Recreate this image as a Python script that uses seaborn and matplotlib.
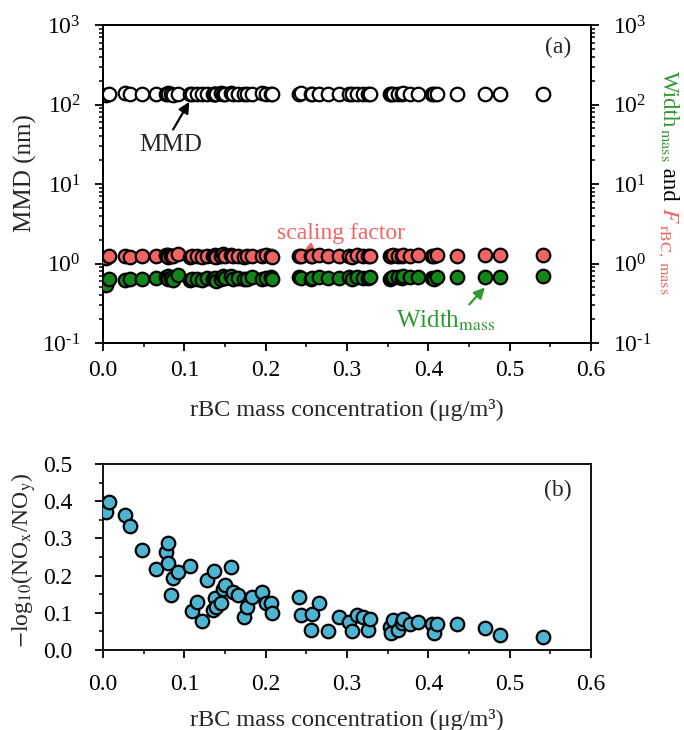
"""
MMD, scaling factor and width of the rBC mass size distribution (a),
and photochemical age -log10(NOx/NOy) (b), versus rBC mass concentration.
"""

import matplotlib
matplotlib.use("Agg")
import matplotlib.pyplot as plt
import seaborn as sns
from matplotlib.ticker import (LogLocator, MultipleLocator, FormatStrFormatter,
                               NullFormatter, FuncFormatter)

# rBC mass concentration (ug/m3), shared by both panels
rbc = [0.004, 0.007, 0.027, 0.033, 0.048, 0.065, 0.077, 0.080, 0.080, 0.084,
       0.086, 0.092, 0.107, 0.109, 0.115, 0.122, 0.128, 0.135, 0.137, 0.138,
       0.139, 0.145, 0.148, 0.150, 0.157, 0.160, 0.166, 0.173, 0.177, 0.183,
       0.195, 0.200, 0.207, 0.208, 0.241, 0.243, 0.256, 0.257, 0.265, 0.277,
       0.290, 0.303, 0.306, 0.312, 0.320, 0.326, 0.328, 0.353, 0.354, 0.357,
       0.363, 0.367, 0.369, 0.378, 0.387, 0.404, 0.407, 0.410, 0.435, 0.470,
       0.488, 0.541]

# panel (a)
mmd = [130, 136, 138, 134, 136, 137, 135, 138, 134, 136,
       133, 137, 136, 135, 137, 136, 134, 137, 135, 136,
       134, 138, 135, 137, 139, 136, 134, 137, 135, 136,
       138, 135, 136, 137, 136, 138, 135, 137, 136, 134,
       137, 136, 135, 137, 134, 136, 137, 136, 134, 137,
       136, 135, 138, 137, 136, 137, 134, 136, 135, 136,
       137, 137]
scaling = [1.16, 1.26, 1.24, 1.22, 1.25, 1.23, 1.27, 1.29, 1.22, 1.25,
           1.24, 1.30, 1.21, 1.23, 1.24, 1.22, 1.26, 1.23, 1.25, 1.27,
           1.21, 1.24, 1.30, 1.26, 1.27, 1.23, 1.25, 1.22, 1.24, 1.26,
           1.23, 1.27, 1.25, 1.22, 1.26, 1.24, 1.23, 1.25, 1.27, 1.24,
           1.25, 1.26, 1.22, 1.27, 1.25, 1.24, 1.26, 1.23, 1.25, 1.27,
           1.26, 1.24, 1.28, 1.26, 1.27, 1.25, 1.23, 1.27, 1.26, 1.28,
           1.27, 1.29]
width = [0.54, 0.64, 0.62, 0.63, 0.64, 0.66, 0.68, 0.70, 0.63, 0.65,
         0.62, 0.71, 0.62, 0.64, 0.63, 0.62, 0.65, 0.63, 0.64, 0.66,
         0.61, 0.64, 0.69, 0.66, 0.70, 0.64, 0.65, 0.63, 0.64, 0.67,
         0.63, 0.66, 0.68, 0.64, 0.67, 0.65, 0.64, 0.66, 0.67, 0.65,
         0.66, 0.67, 0.64, 0.68, 0.66, 0.65, 0.67, 0.64, 0.66, 0.68,
         0.67, 0.65, 0.69, 0.67, 0.68, 0.66, 0.64, 0.68, 0.67, 0.68,
         0.68, 0.69]

# panel (b)
nox_ratio = [0.372, 0.399, 0.363, 0.333, 0.269, 0.217, 0.264, 0.287, 0.233, 0.147,
             0.194, 0.209, 0.227, 0.105, 0.130, 0.079, 0.188, 0.108, 0.212, 0.141,
             0.116, 0.126, 0.163, 0.175, 0.222, 0.157, 0.147, 0.090, 0.116, 0.143,
             0.155, 0.127, 0.126, 0.099, 0.142, 0.094, 0.054, 0.097, 0.127, 0.052,
             0.088, 0.076, 0.051, 0.094, 0.088, 0.054, 0.083, 0.063, 0.045, 0.081,
             0.054, 0.072, 0.083, 0.070, 0.076, 0.070, 0.047, 0.070, 0.070, 0.058,
             0.040, 0.035]

RED = '#f26464'
GREEN = '#13861a'
GREEN_TXT = '#2f9a2f'
BLUE = '#4db5d1'

sns.set_theme(style="ticks")
plt.rcParams['font.family'] = ['Liberation Serif', 'DejaVu Serif']
plt.rcParams['mathtext.fontset'] = 'stix'
plt.rcParams['axes.unicode_minus'] = False

FS = 17
fig = plt.figure(figsize=(6.84, 7.3), dpi=100)
ax1 = fig.add_axes([0.1506, 0.5301, 0.7135, 0.4356])
ax2 = fig.add_axes([0.1506, 0.1096, 0.7135, 0.2548])

mk = dict(s=95, linewidth=1.6, edgecolor='black', zorder=3, legend=False)


def pow10(v, pos):
    e = int(round(np.log10(v)))
    if e < 0:
        return r'$\mathdefault{10^{\text{-}%d}}$' % (-e)
    return r'$\mathdefault{10^{%d}}$' % e


import numpy as np

# ---- panel (a)
ax1.set_yscale('log')
ax1.set_xlim(0, 0.6)
twin = ax1.twinx()
twin.set_yscale('log')

sns.scatterplot(x=rbc, y=mmd, ax=ax1, color='white', **mk)
sns.scatterplot(x=rbc, y=scaling, ax=twin, color=RED, **mk)
sns.scatterplot(x=rbc, y=width, ax=twin, color=GREEN, **mk)
twin.set_xlim(0, 0.6)

for a in (ax1, twin):
    a.yaxis.set_major_locator(LogLocator(base=10, numticks=10))
    a.yaxis.set_minor_locator(LogLocator(base=10, subs=range(2, 10), numticks=10))
    a.yaxis.set_major_formatter(FuncFormatter(pow10))
    a.yaxis.set_minor_formatter(NullFormatter())
    a.set_ylim(0.1, 1000)
    for s in a.spines.values():
        s.set_linewidth(1.3)
        s.set_color('black')

ax1.set_ylabel('MMD (nm)', fontsize=FS + 1)
ax1.yaxis.set_label_coords(-0.135, 0.535)
ax1.set_xlabel('rBC mass concentration (μg/m³)', fontsize=FS + 0.5)
ax1.xaxis.set_label_coords(0.5, -0.175)

ax1.annotate('MMD', xy=(0.106, 108), xytext=(0.083, 31), fontsize=FS + 1,
             ha='center', va='center',
             arrowprops=dict(arrowstyle='-|>', color='black', lw=1.6,
                             mutation_scale=16, shrinkA=1, shrinkB=0, relpos=(0.5, 1.0)))
ax1.annotate('scaling factor', xy=(0.245, 1.38), xytext=(0.292, 2.37), fontsize=FS,
             ha='center', va='center', color=RED,
             arrowprops=dict(arrowstyle='-|>', color=RED, lw=1.6,
                             mutation_scale=16, shrinkA=1, shrinkB=0, relpos=(0.35, 0.0)))
ax1.annotate(r'Width$_{\mathrm{mass}}$', xy=(0.4695, 0.50), xytext=(0.421, 0.19),
             fontsize=FS + 1, ha='center', va='center', color=GREEN_TXT,
             arrowprops=dict(arrowstyle='-|>', color=GREEN_TXT, lw=1.6,
                             mutation_scale=16, shrinkA=1, shrinkB=0, relpos=(0.7, 1.0)))
ax1.text(0.96, 0.93, '(a)', transform=ax1.transAxes, fontsize=FS, ha='right', va='center')

# ---- panel (b)
sns.scatterplot(x=rbc, y=nox_ratio, ax=ax2, color=BLUE, **mk)
ax2.set_xlim(0, 0.6)
ax2.set_ylim(0, 0.5)
ax2.yaxis.set_major_locator(MultipleLocator(0.1))
ax2.yaxis.set_minor_locator(MultipleLocator(0.05))
ax2.yaxis.set_major_formatter(FormatStrFormatter('%.1f'))
ax2.set_ylabel(r'$-$log$_{10}$(NO$_{\mathrm{x}}$/NO$_{\mathrm{y}}$)', fontsize=FS)
ax2.yaxis.set_label_coords(-0.133, 0.484)
ax2.set_xlabel('rBC mass concentration (μg/m³)', fontsize=FS + 0.5)
ax2.xaxis.set_label_coords(0.5, -0.315)
ax2.text(0.96, 0.86, '(b)', transform=ax2.transAxes, fontsize=FS, ha='right', va='center')
for s in ax2.spines.values():
    s.set_linewidth(1.3)
    s.set_color('black')

for a in (ax1, ax2):
    a.xaxis.set_major_locator(MultipleLocator(0.1))
    a.xaxis.set_minor_locator(MultipleLocator(0.05))
    a.xaxis.set_major_formatter(FormatStrFormatter('%.1f'))

for a in (ax1, twin, ax2):
    a.tick_params(which='major', direction='out', length=6, width=1.3,
                  labelsize=FS, colors='black', pad=4)
    a.tick_params(which='minor', direction='out', length=3, width=1.1, colors='black')
ax1.tick_params(axis='y', which='both', right=False, pad=10)
twin.tick_params(axis='y', which='both', left=False, pad=10)
ax1.tick_params(axis='x', pad=6)
ax2.tick_params(axis='x', pad=11)
ax2.tick_params(axis='y', pad=16)

# right-hand label, drawn piece by piece so each part keeps its colour
pieces = [('Width', GREEN_TXT), (r'$_{\mathrm{mass}}$', GREEN_TXT),
          (' and ', 'black'), (r'$F$', RED), (r'$_{\mathrm{rBC,\ mass}}$', RED)]
renderer = fig.canvas.get_renderer()
ypix = 730 - 71
xpix = 663
for txt, col in pieces:
    t = fig.text(xpix / 684, ypix / 730, txt, color=col, fontsize=FS - 0.5, rotation=270,
                 rotation_mode='anchor', ha='left', va='baseline')
    bb = t.get_window_extent(renderer)
    ypix = bb.y0 - 0.5

fig.savefig('out.png', dpi=100)
